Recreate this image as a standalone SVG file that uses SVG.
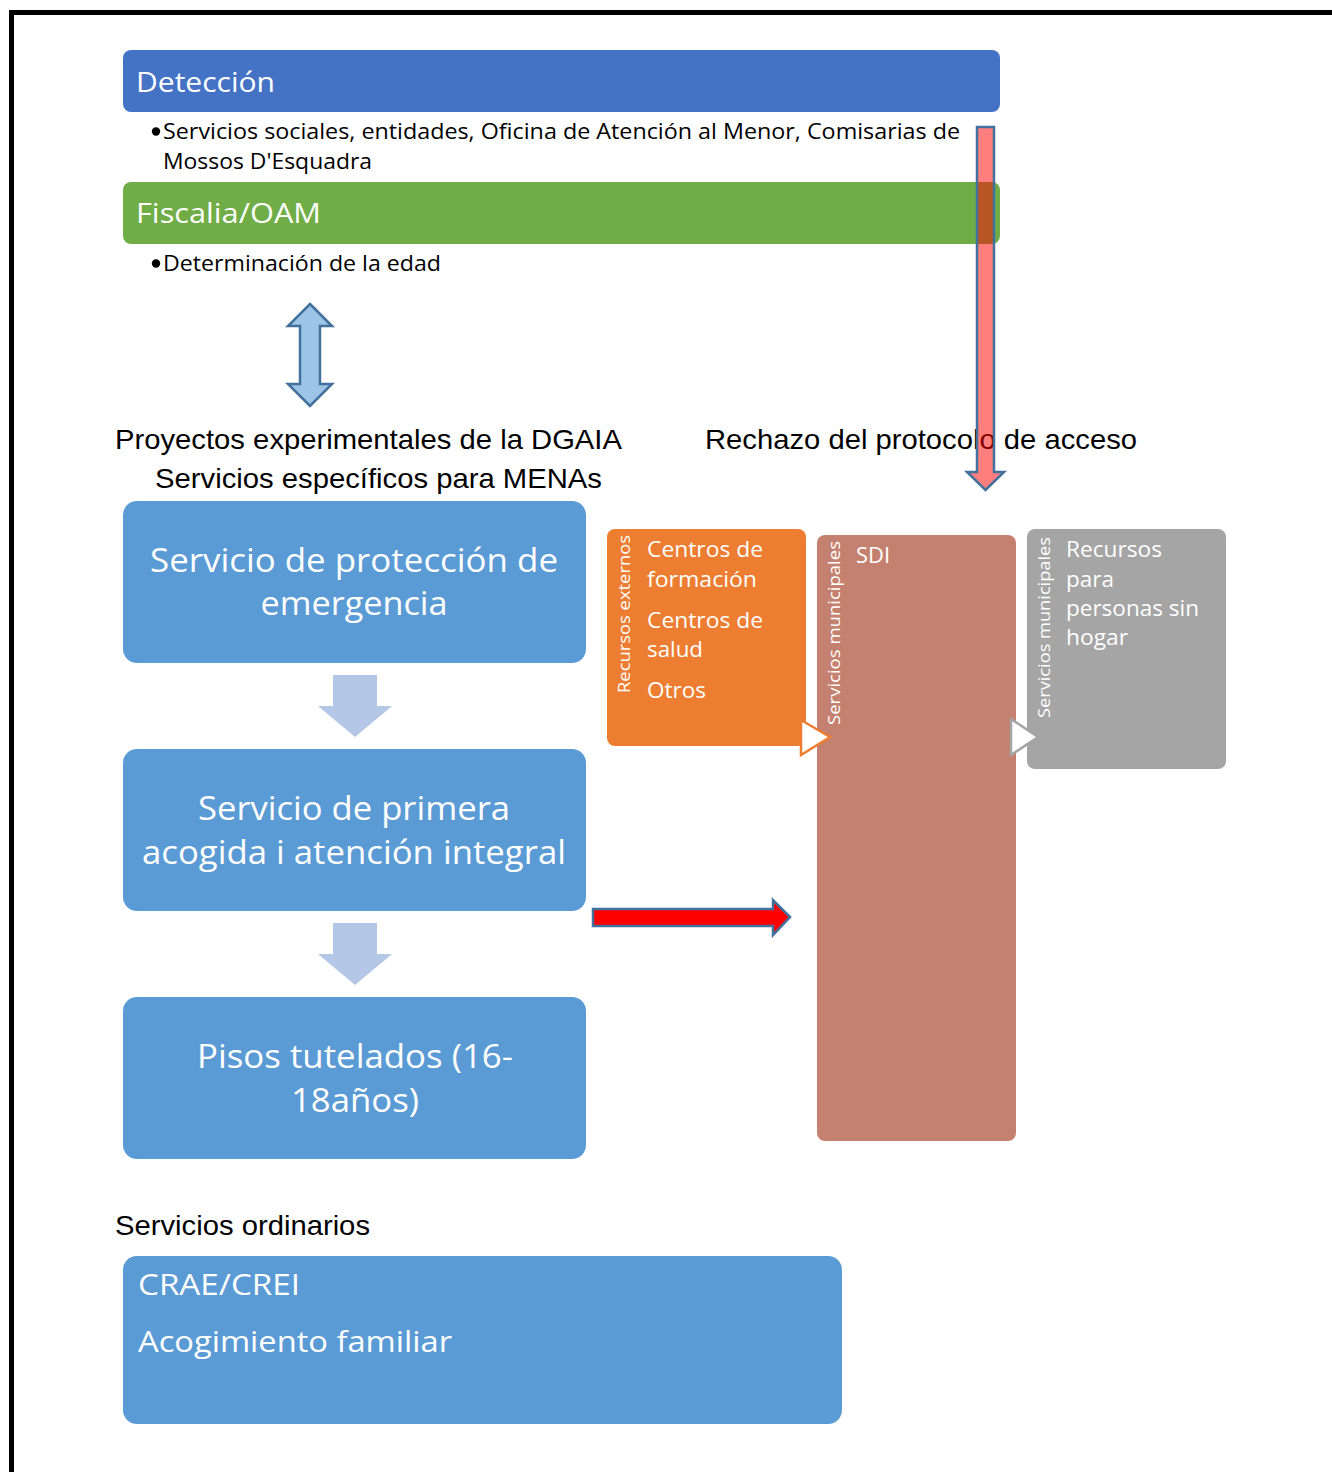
<svg xmlns="http://www.w3.org/2000/svg" width="1332" height="1472" viewBox="0 0 1332 1472">
<style>
.c{font-family:"Open Sans","Noto Sans",sans-serif;}
.w{fill:#ffffff;}
.k{fill:#000000;}
.a{font-family:"Liberation Sans",Arial,sans-serif;font-size:28px;fill:#000;}
.blue{fill:#5B9BD5;}
</style>
<rect x="0" y="0" width="1332" height="1472" fill="#ffffff"/>
<rect x="11.5" y="12.5" width="1400" height="1500" fill="none" stroke="#000" stroke-width="5"/>

<g id="deteccion">
<rect x="123" y="50" width="877" height="62" rx="8" fill="#4472C4"/>
<text class="c w" x="136" y="92" font-size="28" textLength="139" lengthAdjust="spacingAndGlyphs">Detección</text>
</g>
<g id="deteccion-items">
<circle cx="156" cy="131.5" r="4.2" fill="#000"/>
<text class="c k" x="163" y="139" font-size="22" textLength="797" lengthAdjust="spacingAndGlyphs">Servicios sociales, entidades, Oficina de Atención al Menor, Comisarias de</text>
<text class="c k" x="163" y="169" font-size="22" textLength="209" lengthAdjust="spacingAndGlyphs">Mossos D'Esquadra</text>
</g>
<g id="fiscalia">
<rect x="123" y="182" width="877" height="62" rx="8" fill="#70AD47"/>
<text class="c w" x="136" y="223" font-size="28" textLength="185" lengthAdjust="spacingAndGlyphs">Fiscalia/OAM</text>
</g>
<g id="fiscalia-items">
<circle cx="156" cy="263.5" r="4.2" fill="#000"/>
<text class="c k" x="163" y="271" font-size="22" textLength="278" lengthAdjust="spacingAndGlyphs">Determinación de la edad</text>
</g>

<g id="labels">
<text class="a" x="115" y="449" textLength="507" lengthAdjust="spacingAndGlyphs">Proyectos experimentales de la DGAIA</text>
<text class="a" x="155" y="488" textLength="447" lengthAdjust="spacingAndGlyphs">Servicios específicos para MENAs</text>
<text class="a" x="705" y="449" textLength="432" lengthAdjust="spacingAndGlyphs">Rechazo del protocolo de acceso</text>
<text class="a" x="115" y="1235" textLength="255" lengthAdjust="spacingAndGlyphs">Servicios ordinarios</text>
</g>

<g id="proteccion">
<rect class="blue" x="123" y="501" width="463" height="162" rx="14"/>
<text class="c w" x="354" y="572" font-size="32.5" text-anchor="middle" textLength="408" lengthAdjust="spacingAndGlyphs">Servicio de protección de</text>
<text class="c w" x="354" y="615" font-size="32.5" text-anchor="middle" textLength="187" lengthAdjust="spacingAndGlyphs">emergencia</text>
</g>
<g id="primera-acogida">
<rect class="blue" x="123" y="749" width="463" height="162" rx="14"/>
<text class="c w" x="354" y="820" font-size="32.5" text-anchor="middle" textLength="312" lengthAdjust="spacingAndGlyphs">Servicio de primera</text>
<text class="c w" x="354" y="864" font-size="32.5" text-anchor="middle" textLength="424" lengthAdjust="spacingAndGlyphs">acogida i atención integral</text>
</g>
<g id="pisos">
<rect class="blue" x="123" y="997" width="463" height="162" rx="14"/>
<text class="c w" x="355" y="1068" font-size="32.5" text-anchor="middle" textLength="316" lengthAdjust="spacingAndGlyphs">Pisos tutelados (16-</text>
<text class="c w" x="355" y="1112" font-size="32.5" text-anchor="middle" textLength="128" lengthAdjust="spacingAndGlyphs">18años)</text>
</g>

<g id="recursos-externos">
<rect x="607" y="529" width="199" height="217" rx="8" fill="#ED7D31"/>
<text class="c w" transform="translate(630,693) rotate(-90)" x="0" y="0" font-size="16" textLength="158" lengthAdjust="spacingAndGlyphs">Recursos externos</text>
<text class="c w" x="647" y="557" font-size="21.5" textLength="116" lengthAdjust="spacingAndGlyphs">Centros de</text>
<text class="c w" x="647" y="587" font-size="21.5" textLength="110" lengthAdjust="spacingAndGlyphs">formación</text>
<text class="c w" x="647" y="628" font-size="21.5" textLength="116" lengthAdjust="spacingAndGlyphs">Centros de</text>
<text class="c w" x="647" y="657" font-size="21.5" textLength="56" lengthAdjust="spacingAndGlyphs">salud</text>
<text class="c w" x="647" y="698" font-size="21.5" textLength="59" lengthAdjust="spacingAndGlyphs">Otros</text>
</g>
<g id="sdi">
<rect x="817" y="535" width="199" height="606" rx="8" fill="#C5816F"/>
<text class="c w" transform="translate(840,725) rotate(-90)" x="0" y="0" font-size="16" textLength="184" lengthAdjust="spacingAndGlyphs">Servicios municipales</text>
<text class="c w" x="856" y="563" font-size="21.5" textLength="34" lengthAdjust="spacingAndGlyphs">SDI</text>
</g>
<g id="sin-hogar">
<rect x="1027" y="529" width="199" height="240" rx="8" fill="#A5A5A5"/>
<text class="c w" transform="translate(1050,718) rotate(-90)" x="0" y="0" font-size="16" textLength="181" lengthAdjust="spacingAndGlyphs">Servicios municipales</text>
<text class="c w" x="1066" y="557" font-size="21.5" textLength="96" lengthAdjust="spacingAndGlyphs">Recursos</text>
<text class="c w" x="1066" y="587" font-size="21.5" textLength="48" lengthAdjust="spacingAndGlyphs">para</text>
<text class="c w" x="1066" y="616" font-size="21.5" textLength="133" lengthAdjust="spacingAndGlyphs">personas sin</text>
<text class="c w" x="1066" y="645" font-size="21.5" textLength="62" lengthAdjust="spacingAndGlyphs">hogar</text>
</g>

<g id="ordinarios">
<rect class="blue" x="123" y="1256" width="719" height="168" rx="14"/>
<text class="c w" x="138" y="1295" font-size="29.5" textLength="162" lengthAdjust="spacingAndGlyphs">CRAE/CREI</text>
<text class="c w" x="138" y="1352" font-size="29.5" textLength="314" lengthAdjust="spacingAndGlyphs">Acogimiento familiar</text>
</g>

<g id="connectors">
<polygon points="310,304 332,326 320,326 320,384 332,384 310,406 288,384 300,384 300,326 288,326" fill="#9DC3E6" stroke="#41719C" stroke-width="2.5" stroke-linejoin="miter"/>
<polygon points="333,675 377,675 377,706 392,706 355,737 318,706 333,706" fill="#B4C7E7"/>
<polygon points="333,923 377,923 377,954 392,954 355,985 318,954 333,954" fill="#B4C7E7"/>
<polygon points="593,909 773,909 773,900 790,917 773,935 773,926 593,926" fill="#FF0000" stroke="#41719C" stroke-width="2.5"/>
<polygon points="801,720 830,737 801,755" fill="#ffffff" stroke="#ED7D31" stroke-width="2.5"/>
<polygon points="1011,719 1038,737 1011,755" fill="#ffffff" stroke="#A5A5A5" stroke-width="2.5"/>
<polygon points="977,127 994,127 994,472 1004,472 985.5,490 967,472 977,472" fill="#FF0000" fill-opacity="0.5" stroke="#41719C" stroke-width="2.5"/>
</g>
</svg>
